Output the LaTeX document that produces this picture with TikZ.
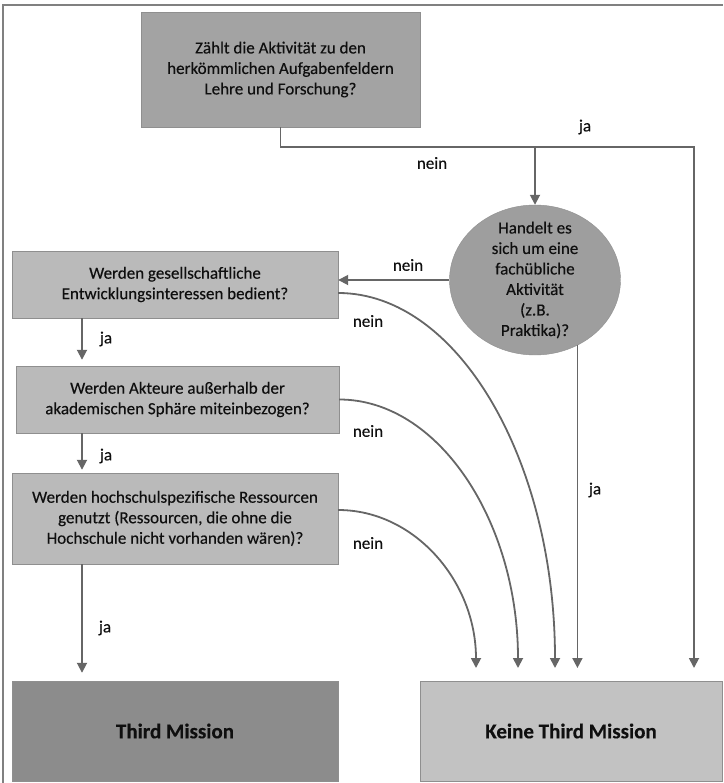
\documentclass[tikz,border=0pt]{standalone}
\usepackage{fontspec}
\setmainfont{Carlito}[FakeBold=0.25]
\newfontfamily\halbfett{Carlito}[FakeBold=0.3]
\usetikzlibrary{shapes.geometric,arrows.meta}
\definecolor{rahmen}{gray}{0.5}
\definecolor{kante}{gray}{0.56}
\definecolor{linie}{gray}{0.4}
\definecolor{schrift}{gray}{0.06}
\definecolor{mittel}{gray}{0.64}
\definecolor{kreis}{gray}{0.62}
\definecolor{hell}{gray}{0.73}
\definecolor{dunkel}{gray}{0.55}
\definecolor{blass}{gray}{0.76}
\tikzset{
  frage/.style={rectangle, draw=kante, fill=hell, text=schrift, align=center,
    inner sep=0pt, font=\halbfett\fontsize{17}{20.5}\selectfont},
  ende/.style={rectangle, draw=kante, text=schrift, inner sep=0pt,
    font=\bfseries\fontsize{21}{25}\selectfont},
  pfeil/.style={draw=linie, line width=1.8pt, -{Triangle[width=10pt,length=10pt]}},
  marke/.style={text=schrift, inner sep=0pt, font=\halbfett\fontsize{17}{20.5}\selectfont},
}
\begin{document}
\begin{tikzpicture}[x=1pt,y=-1pt]
      \useasboundingbox (0,0) rectangle (723,783);
      \draw[rahmen, line width=1.2pt] (3,783) -- (3,5) -- (723,5);
      \draw
        (280.5,69.5) node[frage, fill=mittel, minimum width=279pt, minimum height=115pt] (0)
          {Zählt die Aktivität zu den\\herkömmlichen Aufgabenfeldern\\Lehre und Forschung?}
        (535,280) node[frage, ellipse, fill=kreis, minimum width=171pt, minimum height=150pt] (1) {}
        (175,284.5) node[frage, minimum width=326pt, minimum height=67pt] (2)
          {Werden gesellschaftliche\\Entwicklungsinteressen bedient?}
        (177.5,399.5) node[frage, minimum width=323pt, minimum height=67pt] (3)
          {Werden Akteure außerhalb der\\akademischen Sphäre miteinbezogen?}
        (175,518.5) node[frage, minimum width=326pt, minimum height=91pt] (4)
          {Werden hochschulspezifische Ressourcen\\genutzt (Ressourcen, die ohne die\\Hochschule nicht vorhanden wären)?}
        (175,731) node[ende, fill=dunkel, minimum width=326pt, minimum height=100pt] (5) {Third Mission}
        (571,731) node[ende, fill=blass, minimum width=302pt, minimum height=100pt] (6) {Keine Third Mission};
      \node[frage, draw=none, fill=none] (1t) at (1)
        {Handelt es\\sich um eine\\fachübliche\\Aktivität\\(z.B.\\Praktika)?};
      % Knickpunkt und Pfeilspitzen ueber "Keine Third Mission"
      \coordinate (j) at (694,147);
      \coordinate (k1) at (476,668);
      \coordinate (k2) at (518,668);
      \coordinate (k3) at (555,668);
      \coordinate (k5) at (694,668);
      \coordinate (l) at (82,0);
      \begin{scope}[pfeil]
        \draw (0.south) -- (0.south |- j) -- (j) -- (k5);
        \draw (1.north |- j) -- (1.north);
        \draw (1.west) -- (1.west -| 2.east);
        \draw (1.-57) -- (1.-57 |- k5);
        \draw ([yshift=-8.5pt]2.east) .. controls +(120,0) and +(0,-207) .. (k3);
        \draw (3.east) .. controls +(99,0) and +(0,-147) .. (k2);
        \draw ([yshift=8.5pt]4.east) .. controls +(76,0) and +(0,-87) .. (k1);
        \draw[shorten >=6pt] (l |- 2.south) -- (l |- 3.north);
        \draw[shorten >=3pt] (l |- 3.south) -- (l |- 4.north);
        \draw[shorten >=8pt] (l |- 4.south) -- (l |- 5.north);
      \end{scope}
      \node[marke] (ja0) at (585,127) {ja};
      \node[marke] (nein0) at (432,163) {nein};
      \node[marke] (nein1) at (408,265) {nein};
      \node[marke] (ja1) at (595,490) {ja};
      \node[marke] (nein2) at (368,321) {nein};
      \node[marke] (nein3) at (368,431) {nein};
      \node[marke] (nein4) at (368,543) {nein};
      \node[marke] (ja2) at (106,339) {ja};
      \node[marke] (ja3) at (106,456) {ja};
      \node[marke] (ja4) at (105,628) {ja};
    \end{tikzpicture}
\end{document}
